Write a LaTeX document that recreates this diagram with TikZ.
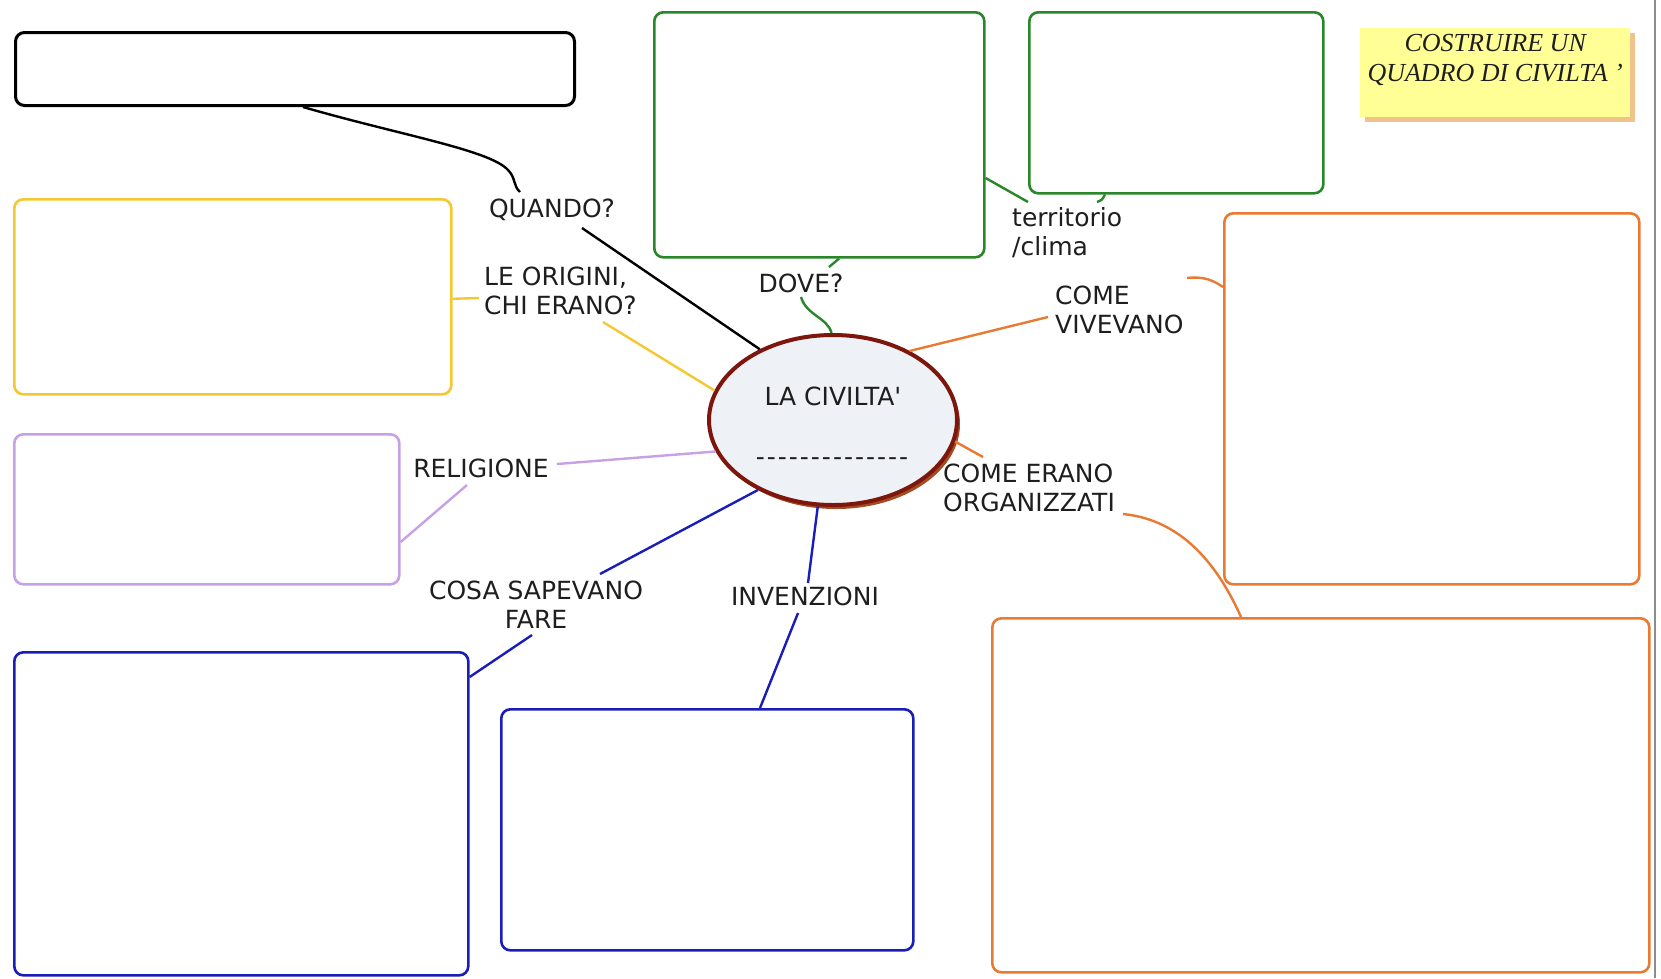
\documentclass[tikz,border=0pt]{standalone}
\usepackage{fontspec}
\newfontfamily\labfont{DejaVu Sans}
\newfontfamily\notefont{Liberation Serif}
\usetikzlibrary{shapes.geometric,shadows,calc}
\definecolor{cgreen}{RGB}{40,135,40}
\definecolor{cyellow}{RGB}{245,200,50}
\definecolor{cpurple}{RGB}{200,160,230}
\definecolor{cblue}{RGB}{25,30,185}
\definecolor{corange}{RGB}{232,122,50}
\definecolor{cred}{RGB}{125,22,12}
\definecolor{cfill}{RGB}{238,242,246}
\definecolor{cshadow}{RGB}{165,75,35}
\definecolor{notefill}{RGB}{255,255,150}
\definecolor{noteshadow}{RGB}{240,195,140}
\definecolor{ctext}{RGB}{30,30,30}
\newcommand\mydash{\hbox{-}\kern2pt}
\begin{document}
\begin{tikzpicture}[x=1pt,y=-1pt,
  box/.style={draw, line width=2.6pt, rounded corners=9pt, inner sep=0pt, anchor=north west},
  lab/.style={font={\labfont\fontsize{25}{29}\selectfont}, text=ctext, inner sep=0pt},
  conn/.style={line width=2.4pt}]
\fill[white] (0,0) rectangle (1661,978);
\useasboundingbox (0,0) rectangle (1661,978);
\draw[line width=1.5pt, black!45] (1655,0) -- (1655,978);
% boxes
\node[box, draw=black, line width=3pt, minimum width=559pt, minimum height=73pt] (bk) at (14,31) {};
\node[box, draw=cgreen, minimum width=330pt, minimum height=245pt] (g1) at (653,11) {};
\node[box, draw=cgreen, minimum width=294pt, minimum height=181pt] (g2) at (1028,11) {};
\node[box, draw=cyellow, minimum width=437pt, minimum height=195pt] (yb) at (13,198) {};
\node[box, draw=cpurple, minimum width=385pt, minimum height=150pt] (pb) at (13,433) {};
\node[box, draw=cblue, minimum width=454pt, minimum height=323pt] (bb1) at (13,651) {};
\node[box, draw=cblue, minimum width=412pt, minimum height=241pt] (bb2) at (500,708) {};
\node[box, draw=corange, minimum width=415pt, minimum height=371pt] (ob1) at (1223,212) {};
\node[box, draw=corange, minimum width=657pt, minimum height=354pt] (ob2) at (991,617) {};
% note
\node[fill=notefill, inner sep=0pt, anchor=north west,
  drop shadow={shadow xshift=5pt, shadow yshift=-5pt, fill=noteshadow, opacity=1}] (nt) at (1360,28)
  {\parbox[c][89pt][t]{270pt}{\centering\notefont\itshape\fontsize{26}{30}\selectfont\color{ctext}\vspace*{6pt}COSTRUIRE UN\\QUADRO DI CIVILTA ’}};
% central ellipse
\node[ellipse, draw=cred, line width=4pt, fill=cfill, minimum width=248pt, minimum height=170pt, inner sep=0pt,
  drop shadow={shadow xshift=3pt, shadow yshift=-4pt, fill=cshadow, opacity=1},
  align=center, font={\labfont\fontsize{25}{29}\selectfont}, text=ctext] (c) at (833,420)
  {\rule{0pt}{30pt}LA CIVILTA'\\[31pt]\mydash\mydash\mydash\mydash\mydash\mydash\mydash\mydash\mydash\mydash\mydash\mydash\mydash\mydash};
% labels
\node[lab] (lq) at (552,210) {QUANDO?};
\node[lab, anchor=west, align=left] (lo) at (484,291) {LE ORIGINI,\\CHI ERANO?};
\node[lab] (ld) at (801,283) {DOVE?};
\node[lab, anchor=west, align=left] (lt) at (1012,233) {territorio\\/clima};
\node[lab, anchor=west, align=left] (lv) at (1055,310) {COME\\VIVEVANO};
\node[lab] (lr) at (481,468) {RELIGIONE};
\node[lab, anchor=west, align=left] (lor) at (943,488) {COME ERANO\\ORGANIZZATI};
\node[lab, align=center] (lc) at (536,605) {COSA SAPEVANO\\FARE};
\node[lab] (li) at (805,596) {INVENZIONI};
% connectors
\draw[conn, black] ($(bk.south west)+(289,0)$) .. controls (400,135) and (490,150) .. ($(lq)+(-44,-40)$)
  .. controls ($(lq)+(-36,-32)$) and ($(lq)+(-39,-24)$) .. ($(lq)+(-32,-18)$);
\draw[conn, black] ($(lq)+(30,18)$) -- (c.136);
\draw[conn, cyellow] ($(yb.east)+(0,2)$) -- ($(lo.west)+(-5,7)$);
\draw[conn, cyellow] ($(lo.west)+(119,31)$) -- (c.166);
\draw[conn, cgreen] ($(g1.south west)+(186,0)$) -- ($(ld)+(28,-16)$);
\draw[conn, cgreen] ($(ld)+(0,14)$) .. controls ($(ld)+(5,32)$) and ($(ld)+(27,35)$) .. (c.91);
\draw[conn, cgreen] ($(g1.north east)+(0,167)$) -- ($(lt.west)+(16,-31)$);
\draw[conn, cgreen] ($(lt.west)+(85,-31)$) .. controls ($(lt.west)+(90,-33)$) .. ($(g2.south west)+(77,0)$);
\draw[conn, corange] (c.42) -- ($(lv.west)+(-7,7)$);
\draw[conn, corange] ($(lv.west)+(132,-32)$) .. controls ($(lv.west)+(150,-34)$) and ($(lv.west)+(159,-29)$) .. ($(ob1.north west)+(0,75)$);
\draw[conn, corange] (c.-10) -- ($(lor.west)+(40,-31)$);
\draw[conn, corange] ($(lor.west)+(180,26)$) .. controls ($(lor.west)+(242,32)$) and ($(lor.west)+(277,82)$) .. ($(ob2.north west)+(250,0)$);
\draw[conn, cpurple] (c.195) -- ($(lr)+(76,-4)$);
\draw[conn, cpurple] ($(lr)+(-14,17)$) -- ($(pb.north east)+(0,109)$);
\draw[conn, cblue] (c.223) -- ($(lc)+(64,-31)$);
\draw[conn, cblue] ($(lc)+(-4,30)$) -- ($(bb1.north east)+(0,26)$);
\draw[conn, cblue] (c.260) -- ($(li)+(3,-13)$);
\draw[conn, cblue] ($(li)+(-7,17)$) -- ($(bb2.north west)+(260,0)$);
\end{tikzpicture}
\end{document}
